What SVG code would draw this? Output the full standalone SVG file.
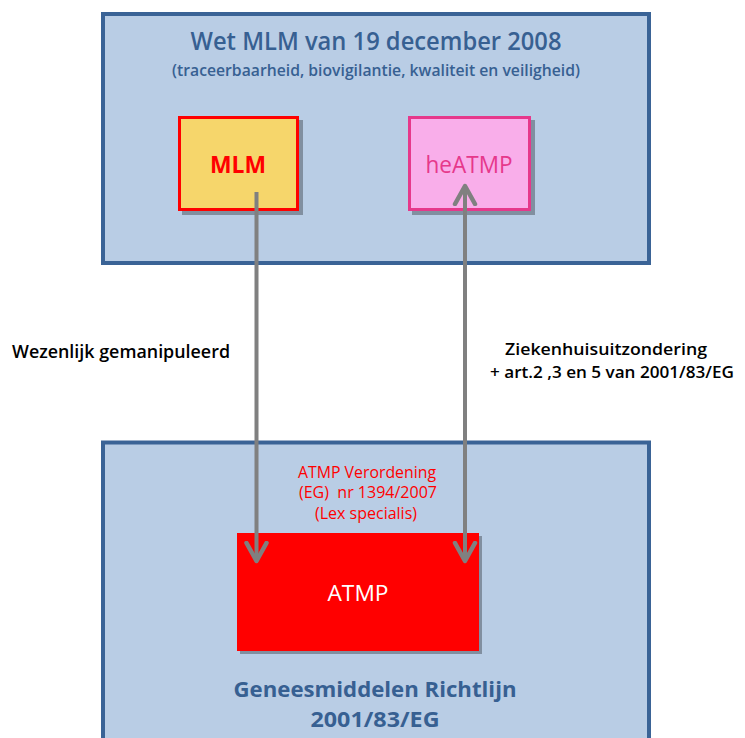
<svg xmlns="http://www.w3.org/2000/svg" width="745" height="738" viewBox="0 0 745 738">
  <defs>
    <marker id="chev" markerUnits="userSpaceOnUse" markerWidth="30" markerHeight="30" viewBox="0 0 30 30" refX="20" refY="15" orient="auto-start-reverse">
      <path d="M2,5 L20,15 L2,25" fill="none" stroke="#808080" stroke-width="4.5" stroke-linejoin="round" stroke-linecap="round"/>
    </marker>
  </defs>
  <style>
    .frame { fill: #B9CDE5; stroke: #3A6396; stroke-width: 4; }
    .shadow { fill: #000000; opacity: 0.3; }
    .blue { fill: #376092; font-family: "Open Sans", "Liberation Sans", sans-serif; text-anchor: middle; }
    .black { fill: #000000; font-family: "Open Sans", "Liberation Sans", sans-serif; font-weight: 600; }
    .red { fill: #FF0000; font-family: "Open Sans", "Liberation Sans", sans-serif; text-anchor: middle; }
    .conn { stroke: #808080; stroke-width: 4; fill: none; }
  </style>

  <g id="wet-mlm">
    <rect class="frame" x="103" y="14" width="546" height="249"/>
    <text class="blue" x="376" y="50" font-size="26" font-weight="600" textLength="371" lengthAdjust="spacingAndGlyphs">Wet MLM van 19 december 2008</text>
    <text class="blue" x="376" y="76" font-size="15.5" font-weight="600" textLength="408" lengthAdjust="spacingAndGlyphs">(traceerbaarheid, biovigilantie, kwaliteit en veiligheid)</text>
  </g>

  <g id="richtlijn">
    <rect class="frame" x="103" y="442.5" width="546" height="330"/>
    <text class="blue" x="375" y="697" font-size="22" font-weight="700" textLength="283" lengthAdjust="spacingAndGlyphs">Geneesmiddelen Richtlijn</text>
    <text class="blue" x="375" y="727" font-size="22" font-weight="700" textLength="129" lengthAdjust="spacingAndGlyphs">2001/83/EG</text>
    <text class="red" x="367" y="478" font-size="16" textLength="138" lengthAdjust="spacingAndGlyphs">ATMP Verordening</text>
    <text class="red" x="368" y="498" font-size="16" xml:space="preserve" textLength="138" lengthAdjust="spacingAndGlyphs">(EG)  nr 1394/2007</text>
    <text class="red" x="366" y="519" font-size="16" textLength="102" lengthAdjust="spacingAndGlyphs">(Lex specialis)</text>
  </g>

  <g id="mlm">
    <rect class="shadow" x="182" y="120" width="121" height="95"/>
    <rect x="179.5" y="117.5" width="118" height="92" fill="#F6D66B" stroke="#FF0000" stroke-width="3"/>
    <text class="red" x="238" y="173" font-size="23" font-weight="700" textLength="56" lengthAdjust="spacingAndGlyphs">MLM</text>
  </g>

  <g id="heatmp">
    <rect class="shadow" x="412" y="120" width="123" height="95"/>
    <rect x="409.5" y="117.5" width="120" height="92" fill="#F9AEEA" stroke="#E6388B" stroke-width="3"/>
    <text x="469" y="173" font-size="23" fill="#E6388B" font-family="'Open Sans', 'Liberation Sans', sans-serif" text-anchor="middle" textLength="87" lengthAdjust="spacingAndGlyphs">heATMP</text>
  </g>

  <g id="atmp">
    <rect class="shadow" x="240" y="536" width="242" height="118"/>
    <rect x="237" y="533" width="242" height="118" fill="#FF0000"/>
    <text x="358" y="601" font-size="21" fill="#FFFFFF" font-family="'Open Sans', 'Liberation Sans', sans-serif" text-anchor="middle" textLength="61" lengthAdjust="spacingAndGlyphs">ATMP</text>
  </g>

  <g id="connectors">
    <line class="conn" x1="256.5" y1="192" x2="256.5" y2="561" marker-end="url(#chev)"/>
    <line class="conn" x1="465" y1="186" x2="465" y2="561" marker-start="url(#chev)" marker-end="url(#chev)"/>
  </g>

  <g id="labels">
    <text class="black" x="12" y="358" font-size="18" textLength="218" lengthAdjust="spacingAndGlyphs">Wezenlijk gemanipuleerd</text>
    <text class="black" x="505" y="355" font-size="17" textLength="202" lengthAdjust="spacingAndGlyphs">Ziekenhuisuitzondering</text>
    <text class="black" x="490" y="378" font-size="17" textLength="244" lengthAdjust="spacingAndGlyphs">+ art.2 ,3 en 5 van 2001/83/EG</text>
  </g>
</svg>
